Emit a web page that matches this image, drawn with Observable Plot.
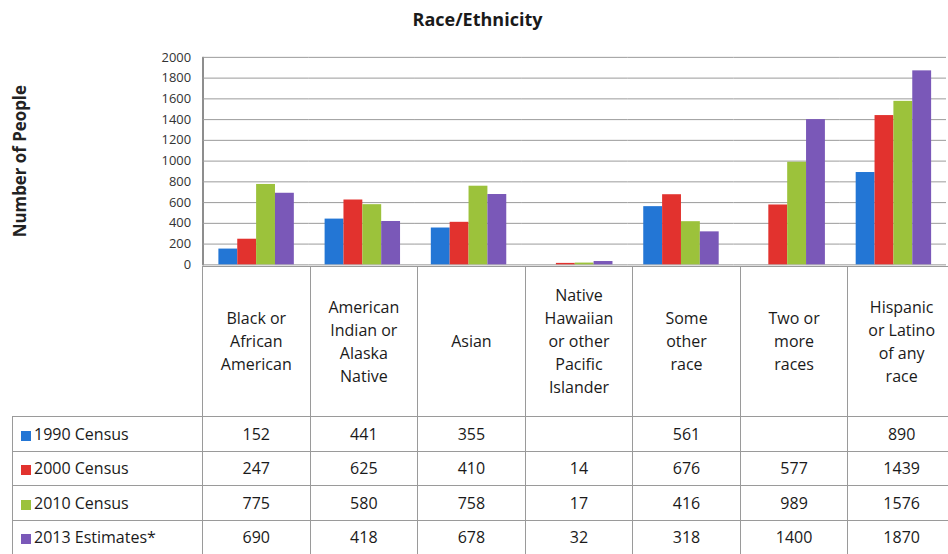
<!DOCTYPE html>
<html>
<head>
<meta charset="utf-8">
<script src="https://cdn.jsdelivr.net/npm/d3@7"></script>
<script src="https://cdn.jsdelivr.net/npm/@observablehq/plot@0.6"></script>
<style>
  html, body { margin: 0; padding: 0; background: #fff; overflow: hidden; width: 948px; height: 554px; }
  #wrap { position: relative; width: 948px; height: 554px; overflow: hidden; font-family: "Open Sans", sans-serif; color: #1a1a1a; }
  #title { position: absolute; top: 7px; left: 0; width: 955px; text-align: center; font-weight: bold; font-size: 18px; }
  #chart { position: absolute; top: 40px; left: 0; }
  #chart svg { overflow: visible; }
  #chart [aria-label="y-axis tick label"] text { font-size: 13px; fill: #333; }
  #chart [aria-label="y-axis label"] text { font-size: 17px; font-weight: bold; fill: #222; }
  table { position: absolute; top: 266px; left: 12px; border-collapse: collapse; table-layout: fixed; width: 943px; font-size: 16px; }
  td { border: 1px solid #9a9a9a; text-align: center; vertical-align: middle; padding: 0; }
  tr.head td { height: 149px; line-height: 23px; }
  tr.head td.blank { border-top: none; border-left: none; }
  tr.row td { height: 33.5px; }
  td.lab { text-align: left; padding-left: 8px; white-space: nowrap; }
  .sw { display: inline-block; width: 10px; height: 10px; margin-right: 3px; vertical-align: -1px; }
</style>
</head>
<body>
<div id="wrap">
  <div id="title">Race/Ethnicity</div>
  <div id="chart"></div>
  <table id="tbl"></table>
</div>
<script>
const categories = [
  "Black or African American",
  "American Indian or Alaska Native",
  "Asian",
  "Native Hawaiian or other Pacific Islander",
  "Some other race",
  "Two or more races",
  "Hispanic or Latino of any race"
];
const categoryLines = [
  ["Black or", "African", "American"],
  ["American", "Indian or", "Alaska", "Native"],
  ["Asian"],
  ["Native", "Hawaiian", "or other", "Pacific", "Islander"],
  ["Some", "other", "race"],
  ["Two or", "more", "races"],
  ["Hispanic", "or Latino", "of any", "race"]
];
const seriesNames = ["1990 Census", "2000 Census", "2010 Census", "2013 Estimates*"];
const values1990 = [152, 441, 355, null, 561, null, 890];
const values2000 = [247, 625, 410, 14, 676, 577, 1439];
const values2010 = [775, 580, 758, 17, 416, 989, 1576];
const values2013 = [690, 418, 678, 32, 318, 1400, 1870];
const yTicks = [0, 200, 400, 600, 800, 1000, 1200, 1400, 1600, 1800, 2000];
const seriesColors = ["#2376d5", "#e2322e", "#9cc23b", "#7a58b8"];

const seriesValues = [values1990, values2000, values2010, values2013];
const data = [];
seriesNames.forEach((s, i) => {
  categories.forEach((c, j) => {
    const v = seriesValues[i][j];
    if (v != null) data.push({series: s, category: c, value: v});
  });
});

const chart = Plot.plot({
  width: 955,
  height: 230,
  marginLeft: 202,
  marginRight: 0,
  marginTop: 17,
  marginBottom: 4,
  style: {fontFamily: "Open Sans, sans-serif", background: "transparent"},
  fx: {domain: categories, padding: 0, axis: null},
  x: {domain: seriesNames, paddingInner: 0, paddingOuter: 0.73, axis: null},
  y: {domain: [0, 2000], ticks: yTicks, tickSize: 0, tickPadding: 12, tickFormat: d3.format("d"),
      label: "Number of People", labelArrow: "none", labelAnchor: "center", labelOffset: 190, line: true},
  color: {domain: seriesNames, range: seriesColors},
  marks: [
    Plot.ruleY(yTicks, {stroke: "#9a9a9a", strokeWidth: 1}),
    Plot.barY(data, {fx: "category", x: "series", y: "value", fill: "series"})
  ]
});
document.getElementById("chart").appendChild(chart);

// data table below the chart
const tbl = document.getElementById("tbl");
const cg = document.createElement("colgroup");
const c0 = document.createElement("col"); c0.style.width = "190px"; cg.appendChild(c0);
categories.forEach(() => { const c = document.createElement("col"); c.style.width = ((955 - 202) / categories.length) + "px"; cg.appendChild(c); });
tbl.appendChild(cg);
const head = document.createElement("tr"); head.className = "head";
const blank = document.createElement("td"); blank.className = "blank"; head.appendChild(blank);
categoryLines.forEach(lines => {
  const td = document.createElement("td");
  td.innerHTML = lines.join("<br>");
  head.appendChild(td);
});
tbl.appendChild(head);
seriesNames.forEach((s, i) => {
  const tr = document.createElement("tr"); tr.className = "row";
  const lab = document.createElement("td"); lab.className = "lab";
  lab.innerHTML = `<span class="sw" style="background:${seriesColors[i]}"></span>${s}`;
  tr.appendChild(lab);
  seriesValues[i].forEach(v => {
    const td = document.createElement("td");
    td.textContent = v == null ? "" : String(v);
    tr.appendChild(td);
  });
  tbl.appendChild(tr);
});
</script>
</body>
</html>
